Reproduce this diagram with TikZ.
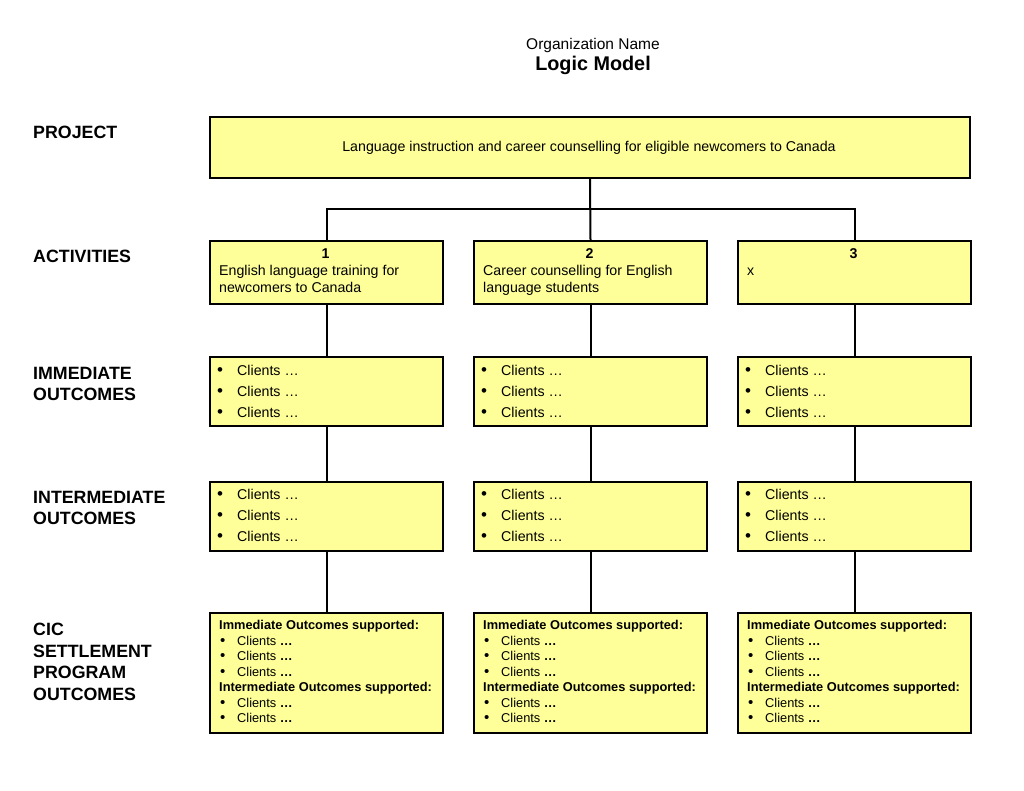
\documentclass[tikz,border=0pt]{standalone}
\usepackage{fontspec}
\setmainfont{Liberation Sans}
\definecolor{boxfill}{RGB}{255,255,153}
\begin{document}
\begin{tikzpicture}[x=1pt,y=-1pt,
  box/.style={draw=black, line width=2pt, fill=boxfill, rectangle, inner sep=0pt, anchor=north west},
  conn/.style={draw=black, line width=2pt},
  lab/.style={font=\fontsize{17.8}{20}\selectfont\bfseries, anchor=base west, inner sep=0pt},
  txt/.style={font=\fontsize{14.2}{16}\selectfont, anchor=base west, inner sep=0pt},
  bul/.style={font=\fontsize{17}{16}\selectfont, anchor=base west, inner sep=0pt},
  small/.style={font=\fontsize{12.8}{14}\selectfont, anchor=base west, inner sep=0pt},
  sbul/.style={font=\fontsize{15}{14}\selectfont, anchor=base west, inner sep=0pt},
  smallb/.style={font=\fontsize{12.8}{14}\selectfont\bfseries, anchor=base west, inner sep=0pt}]
\useasboundingbox (0,0) rectangle (1024,791);
% title
\node[font=\fontsize{15.5}{16}\selectfont, anchor=base, inner sep=0pt] (org) at (593,50) {Organization Name};
\node[font=\fontsize{19.8}{19}\selectfont\bfseries, anchor=base, inner sep=0pt] (title) at (593,71) {Logic Model};
% row labels
\node[lab] (lp) at (33,139) {PROJECT};
\node[lab] (la) at (33,263) {ACTIVITIES};
\node[lab] (li1) at (33,379) {IMMEDIATE};
\node[lab] (li2) at (33,400) {OUTCOMES};
\node[lab] (lm1) at (33,503) {INTERMEDIATE};
\node[lab] (lm2) at (33,524) {OUTCOMES};
\node[lab] (lc1) at (33,635) {CIC};
\node[lab] (lc2) at (33,657) {SETTLEMENT};
\node[lab] (lc3) at (33,678) {PROGRAM};
\node[lab] (lc4) at (33,700) {OUTCOMES};
% project box
\node[box, minimum width=760, minimum height=61] (proj) at (209,116) {};
\node[font=\fontsize{14.2}{16}\selectfont, anchor=base, inner sep=0pt] (projt) at (589,152) {Language instruction and career counselling for eligible newcomers to Canada};
% boxes in columns
\foreach \i/\x in {1/209, 2/473, 3/737} {
  \node[box, minimum width=233, minimum height=63] (act\i) at (\x,240) {};
  \node[box, minimum width=233, minimum height=69] (imm\i) at (\x,356) {};
  \node[box, minimum width=233, minimum height=69] (int\i) at (\x,481) {};
  \node[box, minimum width=233, minimum height=120] (cic\i) at (\x,612) {};
  \node[font=\fontsize{14.2}{16}\selectfont\bfseries, anchor=base, inner sep=0pt] (num\i) at (\x+116.5,259) {\i};
  \foreach \y [count=\k] in {375,396,417} {
    \node[bul] (imb\i\k) at (\x+8,\y) {•};
    \node[txt] (imt\i\k) at (\x+28,\y) {Clients …};
  }
  \foreach \y [count=\k] in {499,520,541} {
    \node[bul] (inb\i\k) at (\x+8,\y) {•};
    \node[txt] (int\i\k) at (\x+28,\y) {Clients …};
  }
  \node[smallb] (cich\i) at (\x+10,629) {Immediate Outcomes supported:};
  \node[smallb] (cici\i) at (\x+10,691) {Intermediate Outcomes supported:};
  \foreach \y [count=\k] in {645,660,676,707,722} {
    \node[sbul] (cb\i\k) at (\x+11,\y) {•};
    \node[small] (ct\i\k) at (\x+28,\y) {Clients \textbf{…}};
  }
}
% activity texts
\node[txt] (a1l1) at (219,276) {English language training for};
\node[txt] (a1l2) at (219,293) {newcomers to Canada};
\node[txt] (a2l1) at (483,276) {Career counselling for English};
\node[txt] (a2l2) at (483,293) {language students};
\node[txt] (a3l1) at (747,276) {x};
% connectors
\coordinate (j) at (589,209);
\draw[conn] (proj.south) -- (act2.north);
\draw[conn] (act1.north) |- (j) -| (act3.north);
\foreach \i in {1,2,3} {
  \draw[conn] (act\i.south) -- (imm\i.north);
  \draw[conn] (imm\i.south) -- (int\i.north);
  \draw[conn] (int\i.south) -- (cic\i.north);
}
\end{tikzpicture}
\end{document}
